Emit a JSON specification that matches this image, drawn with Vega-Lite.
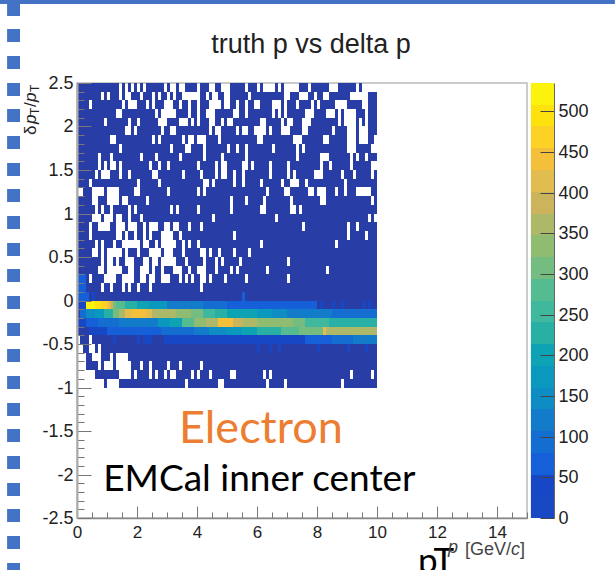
{"$schema":"https://vega.github.io/schema/vega-lite/v6.json","autosize":"none","width":450,"height":435,"padding":{"left":77,"top":83,"right":88,"bottom":52},"background":"white","config":{"view":{"stroke":"#bbbbbb","strokeWidth":1.5}},"datasets":{"cells":[
{"x":0,"e":1.4,"y":2.4,"t":2.5,"v":1},{"x":1.5,"e":1.6,"y":2.4,"t":2.5,"v":1},{"x":1.7,"e":1.8,"y":2.4,"t":2.5,"v":1},{"x":1.9,"e":2,"y":2.4,"t":2.5,"v":1},{"x":2.1,"e":2.2,"y":2.4,"t":2.5,"v":1},{"x":2.3,"e":2.9,"y":2.4,"t":2.5,"v":1},{"x":3,"e":3.1,"y":2.4,"t":2.5,"v":1},{"x":3.3,"e":3.4,"y":2.4,"t":2.5,"v":1},{"x":3.6,"e":4,"y":2.4,"t":2.5,"v":1},{"x":4.1,"e":4.4,"y":2.4,"t":2.5,"v":1},{"x":4.6,"e":4.8,"y":2.4,"t":2.5,"v":1},{"x":5.1,"e":5.6,"y":2.4,"t":2.5,"v":1},{"x":5.7,"e":6,"y":2.4,"t":2.5,"v":1},{"x":6.1,"e":6.2,"y":2.4,"t":2.5,"v":1},{"x":6.6,"e":6.7,"y":2.4,"t":2.5,"v":1},{"x":6.8,"e":6.9,"y":2.4,"t":2.5,"v":1},{"x":7.4,"e":7.7,"y":2.4,"t":2.5,"v":1},{"x":7.8,"e":8.4,"y":2.4,"t":2.5,"v":1},{"x":8.7,"e":9.3,"y":2.4,"t":2.5,"v":1},{"x":9.4,"e":9.5,"y":2.4,"t":2.5,"v":1},
{"x":0,"e":0.8,"y":2.3,"t":2.4,"v":1},{"x":0.9,"e":1,"y":2.3,"t":2.4,"v":1},{"x":1.1,"e":1.4,"y":2.3,"t":2.4,"v":1},{"x":1.5,"e":1.6,"y":2.3,"t":2.4,"v":1},{"x":1.8,"e":2.1,"y":2.3,"t":2.4,"v":1},{"x":2.2,"e":2.5,"y":2.3,"t":2.4,"v":1},{"x":2.6,"e":2.7,"y":2.3,"t":2.4,"v":1},{"x":2.8,"e":3,"y":2.3,"t":2.4,"v":1},{"x":3.1,"e":3.2,"y":2.3,"t":2.4,"v":1},{"x":3.3,"e":3.5,"y":2.3,"t":2.4,"v":1},{"x":4.1,"e":4.3,"y":2.3,"t":2.4,"v":1},{"x":4.4,"e":4.5,"y":2.3,"t":2.4,"v":1},{"x":4.7,"e":4.9,"y":2.3,"t":2.4,"v":1},{"x":5.1,"e":5.7,"y":2.3,"t":2.4,"v":1},{"x":5.8,"e":6.9,"y":2.3,"t":2.4,"v":1},{"x":7.1,"e":7.4,"y":2.3,"t":2.4,"v":1},{"x":7.7,"e":7.9,"y":2.3,"t":2.4,"v":1},{"x":8,"e":8.2,"y":2.3,"t":2.4,"v":1},{"x":8.4,"e":9.1,"y":2.3,"t":2.4,"v":1},{"x":9.7,"e":10,"y":2.3,"t":2.4,"v":1},
{"x":0,"e":0.4,"y":2.2,"t":2.3,"v":1},{"x":0.5,"e":1.5,"y":2.2,"t":2.3,"v":1},{"x":1.6,"e":1.7,"y":2.2,"t":2.3,"v":1},{"x":2,"e":2.3,"y":2.2,"t":2.3,"v":1},{"x":2.4,"e":2.5,"y":2.2,"t":2.3,"v":1},{"x":2.6,"e":2.9,"y":2.2,"t":2.3,"v":1},{"x":3.2,"e":3.4,"y":2.2,"t":2.3,"v":1},{"x":3.5,"e":3.7,"y":2.2,"t":2.3,"v":1},{"x":3.8,"e":4,"y":2.2,"t":2.3,"v":1},{"x":4.1,"e":4.4,"y":2.2,"t":2.3,"v":1},{"x":4.8,"e":4.9,"y":2.2,"t":2.3,"v":1},{"x":5.1,"e":5.3,"y":2.2,"t":2.3,"v":1},{"x":5.4,"e":5.6,"y":2.2,"t":2.3,"v":1},{"x":5.7,"e":5.9,"y":2.2,"t":2.3,"v":1},{"x":6.1,"e":6.5,"y":2.2,"t":2.3,"v":1},{"x":6.8,"e":6.9,"y":2.2,"t":2.3,"v":1},{"x":7,"e":7.3,"y":2.2,"t":2.3,"v":1},{"x":7.4,"e":7.8,"y":2.2,"t":2.3,"v":1},{"x":7.9,"e":8,"y":2.2,"t":2.3,"v":1},{"x":8.1,"e":8.6,"y":2.2,"t":2.3,"v":1},{"x":9,"e":9.5,"y":2.2,"t":2.3,"v":1},{"x":9.7,"e":10,"y":2.2,"t":2.3,"v":1},
{"x":0,"e":1.3,"y":2.1,"t":2.2,"v":1},{"x":1.5,"e":2.6,"y":2.1,"t":2.2,"v":1},{"x":2.7,"e":2.8,"y":2.1,"t":2.2,"v":1},{"x":3.3,"e":3.7,"y":2.1,"t":2.2,"v":1},{"x":3.8,"e":4,"y":2.1,"t":2.2,"v":1},{"x":4.1,"e":4.3,"y":2.1,"t":2.2,"v":1},{"x":4.6,"e":5.2,"y":2.1,"t":2.2,"v":1},{"x":5.4,"e":5.6,"y":2.1,"t":2.2,"v":1},{"x":5.7,"e":6.5,"y":2.1,"t":2.2,"v":1},{"x":6.6,"e":6.7,"y":2.1,"t":2.2,"v":1},{"x":6.8,"e":6.9,"y":2.1,"t":2.2,"v":1},{"x":7,"e":7.6,"y":2.1,"t":2.2,"v":1},{"x":7.9,"e":8.3,"y":2.1,"t":2.2,"v":1},{"x":8.6,"e":8.7,"y":2.1,"t":2.2,"v":1},{"x":8.8,"e":8.9,"y":2.1,"t":2.2,"v":1},{"x":9.3,"e":9.6,"y":2.1,"t":2.2,"v":1},{"x":9.7,"e":10,"y":2.1,"t":2.2,"v":1},
{"x":0,"e":0.9,"y":2,"t":2.1,"v":1},{"x":1,"e":1.7,"y":2,"t":2.1,"v":1},{"x":1.8,"e":2,"y":2,"t":2.1,"v":1},{"x":2.1,"e":2.7,"y":2,"t":2.1,"v":1},{"x":3,"e":3.4,"y":2,"t":2.1,"v":1},{"x":3.7,"e":3.8,"y":2,"t":2.1,"v":1},{"x":3.9,"e":4,"y":2,"t":2.1,"v":1},{"x":4.1,"e":4.4,"y":2,"t":2.1,"v":1},{"x":4.6,"e":4.8,"y":2,"t":2.1,"v":1},{"x":4.9,"e":5,"y":2,"t":2.1,"v":1},{"x":5.2,"e":6.1,"y":2,"t":2.1,"v":1},{"x":6.3,"e":6.8,"y":2,"t":2.1,"v":1},{"x":6.9,"e":7,"y":2,"t":2.1,"v":1},{"x":7.2,"e":7.5,"y":2,"t":2.1,"v":1},{"x":7.8,"e":8.7,"y":2,"t":2.1,"v":1},{"x":8.8,"e":8.9,"y":2,"t":2.1,"v":1},{"x":9.3,"e":9.4,"y":2,"t":2.1,"v":1},{"x":9.5,"e":9.6,"y":2,"t":2.1,"v":1},{"x":9.7,"e":10,"y":2,"t":2.1,"v":1},
{"x":0,"e":1.6,"y":1.9,"t":2,"v":1},{"x":1.8,"e":1.9,"y":1.9,"t":2,"v":1},{"x":2,"e":2.8,"y":1.9,"t":2,"v":1},{"x":2.9,"e":3.1,"y":1.9,"t":2,"v":1},{"x":3.3,"e":4.4,"y":1.9,"t":2,"v":1},{"x":4.5,"e":4.6,"y":1.9,"t":2,"v":1},{"x":4.8,"e":5.3,"y":1.9,"t":2,"v":1},{"x":5.4,"e":5.5,"y":1.9,"t":2,"v":1},{"x":5.7,"e":5.9,"y":1.9,"t":2,"v":1},{"x":6.3,"e":6.4,"y":1.9,"t":2,"v":1},{"x":6.5,"e":6.8,"y":1.9,"t":2,"v":1},{"x":7.1,"e":7.5,"y":1.9,"t":2,"v":1},{"x":7.7,"e":8.5,"y":1.9,"t":2,"v":1},{"x":8.6,"e":9,"y":1.9,"t":2,"v":1},{"x":9.3,"e":9.4,"y":1.9,"t":2,"v":1},{"x":9.7,"e":10,"y":1.9,"t":2,"v":1},
{"x":0,"e":1.1,"y":1.8,"t":1.9,"v":1},{"x":1.3,"e":2.5,"y":1.8,"t":1.9,"v":1},{"x":2.6,"e":2.7,"y":1.8,"t":1.9,"v":1},{"x":2.8,"e":3.5,"y":1.8,"t":1.9,"v":1},{"x":3.6,"e":3.7,"y":1.8,"t":1.9,"v":1},{"x":3.9,"e":4,"y":1.8,"t":1.9,"v":1},{"x":4.3,"e":4.7,"y":1.8,"t":1.9,"v":1},{"x":4.8,"e":6,"y":1.8,"t":1.9,"v":1},{"x":6.2,"e":7.2,"y":1.8,"t":1.9,"v":1},{"x":7.5,"e":8.2,"y":1.8,"t":1.9,"v":1},{"x":8.4,"e":9,"y":1.8,"t":1.9,"v":1},{"x":9.3,"e":9.4,"y":1.8,"t":1.9,"v":1},{"x":9.7,"e":9.9,"y":1.8,"t":1.9,"v":1},
{"x":0,"e":1.4,"y":1.7,"t":1.8,"v":1},{"x":1.5,"e":3.1,"y":1.7,"t":1.8,"v":1},{"x":3.2,"e":3.6,"y":1.7,"t":1.8,"v":1},{"x":3.8,"e":4.2,"y":1.7,"t":1.8,"v":1},{"x":4.3,"e":5,"y":1.7,"t":1.8,"v":1},{"x":5.1,"e":5.3,"y":1.7,"t":1.8,"v":1},{"x":5.4,"e":5.6,"y":1.7,"t":1.8,"v":1},{"x":5.7,"e":6.5,"y":1.7,"t":1.8,"v":1},{"x":6.6,"e":7.3,"y":1.7,"t":1.8,"v":1},{"x":7.4,"e":7.5,"y":1.7,"t":1.8,"v":1},{"x":7.6,"e":9,"y":1.7,"t":1.8,"v":1},{"x":9.3,"e":9.8,"y":1.7,"t":1.8,"v":1},
{"x":0,"e":0.7,"y":1.6,"t":1.7,"v":1},{"x":0.8,"e":1.1,"y":1.6,"t":1.7,"v":1},{"x":1.2,"e":2.1,"y":1.6,"t":1.7,"v":1},{"x":2.2,"e":2.6,"y":1.6,"t":1.7,"v":1},{"x":2.7,"e":3.4,"y":1.6,"t":1.7,"v":1},{"x":3.5,"e":4.2,"y":1.6,"t":1.7,"v":1},{"x":4.3,"e":4.8,"y":1.6,"t":1.7,"v":1},{"x":4.9,"e":5.6,"y":1.6,"t":1.7,"v":1},{"x":5.7,"e":7.3,"y":1.6,"t":1.7,"v":1},{"x":7.4,"e":8.1,"y":1.6,"t":1.7,"v":1},{"x":8.4,"e":9.1,"y":1.6,"t":1.7,"v":1},{"x":9.2,"e":9.3,"y":1.6,"t":1.7,"v":1},{"x":9.4,"e":9.6,"y":1.6,"t":1.7,"v":1},{"x":9.7,"e":10,"y":1.6,"t":1.7,"v":1},
{"x":0,"e":0.7,"y":1.5,"t":1.6,"v":1},{"x":0.8,"e":0.9,"y":1.5,"t":1.6,"v":1},{"x":1,"e":1.1,"y":1.5,"t":1.6,"v":1},{"x":1.3,"e":1.4,"y":1.5,"t":1.6,"v":1},{"x":1.5,"e":2.4,"y":1.5,"t":1.6,"v":1},{"x":2.5,"e":2.7,"y":1.5,"t":1.6,"v":1},{"x":2.8,"e":3,"y":1.5,"t":1.6,"v":1},{"x":3.1,"e":4,"y":1.5,"t":1.6,"v":1},{"x":4.1,"e":4.6,"y":1.5,"t":1.6,"v":1},{"x":4.7,"e":4.8,"y":1.5,"t":1.6,"v":1},{"x":5,"e":5.5,"y":1.5,"t":1.6,"v":1},{"x":5.7,"e":5.8,"y":1.5,"t":1.6,"v":1},{"x":5.9,"e":6.4,"y":1.5,"t":1.6,"v":1},{"x":6.5,"e":7,"y":1.5,"t":1.6,"v":1},{"x":7.1,"e":8.1,"y":1.5,"t":1.6,"v":1},{"x":8.2,"e":8.4,"y":1.5,"t":1.6,"v":1},{"x":8.5,"e":9.1,"y":1.5,"t":1.6,"v":1},{"x":9.2,"e":9.8,"y":1.5,"t":1.6,"v":1},
{"x":0,"e":0.6,"y":1.4,"t":1.5,"v":1},{"x":0.7,"e":0.8,"y":1.4,"t":1.5,"v":1},{"x":1.1,"e":1.4,"y":1.4,"t":1.5,"v":1},{"x":1.5,"e":1.7,"y":1.4,"t":1.5,"v":1},{"x":1.8,"e":2.5,"y":1.4,"t":1.5,"v":1},{"x":2.7,"e":3.5,"y":1.4,"t":1.5,"v":1},{"x":3.6,"e":4.1,"y":1.4,"t":1.5,"v":1},{"x":4.2,"e":4.6,"y":1.4,"t":1.5,"v":1},{"x":4.7,"e":4.8,"y":1.4,"t":1.5,"v":1},{"x":5,"e":5.2,"y":1.4,"t":1.5,"v":1},{"x":5.3,"e":5.5,"y":1.4,"t":1.5,"v":1},{"x":5.6,"e":6.4,"y":1.4,"t":1.5,"v":1},{"x":6.5,"e":7,"y":1.4,"t":1.5,"v":1},{"x":7.1,"e":7.2,"y":1.4,"t":1.5,"v":1},{"x":7.3,"e":7.9,"y":1.4,"t":1.5,"v":1},{"x":8.2,"e":8.8,"y":1.4,"t":1.5,"v":1},{"x":8.9,"e":9.2,"y":1.4,"t":1.5,"v":1},{"x":9.3,"e":9.8,"y":1.4,"t":1.5,"v":1},{"x":9.9,"e":10,"y":1.4,"t":1.5,"v":1},
{"x":0,"e":0.4,"y":1.3,"t":1.4,"v":1},{"x":0.5,"e":2,"y":1.3,"t":1.4,"v":1},{"x":2.1,"e":2.7,"y":1.3,"t":1.4,"v":1},{"x":2.8,"e":4.2,"y":1.3,"t":1.4,"v":1},{"x":4.4,"e":4.5,"y":1.3,"t":1.4,"v":1},{"x":4.6,"e":5.2,"y":1.3,"t":1.4,"v":1},{"x":5.3,"e":5.5,"y":1.3,"t":1.4,"v":1},{"x":5.6,"e":6.1,"y":1.3,"t":1.4,"v":1},{"x":6.2,"e":6.8,"y":1.3,"t":1.4,"v":1},{"x":6.9,"e":7.1,"y":1.3,"t":1.4,"v":1},{"x":7.4,"e":7.6,"y":1.3,"t":1.4,"v":1},{"x":7.7,"e":8.9,"y":1.3,"t":1.4,"v":1},{"x":9,"e":10,"y":1.3,"t":1.4,"v":1},
{"x":0.2,"e":0.5,"y":1.2,"t":1.3,"v":1},{"x":0.9,"e":1,"y":1.2,"t":1.3,"v":1},{"x":1.4,"e":1.9,"y":1.2,"t":1.3,"v":1},{"x":2.1,"e":3,"y":1.2,"t":1.3,"v":1},{"x":3.1,"e":4,"y":1.2,"t":1.3,"v":1},{"x":4.1,"e":4.2,"y":1.2,"t":1.3,"v":1},{"x":4.3,"e":6.3,"y":1.2,"t":1.3,"v":1},{"x":6.4,"e":6.9,"y":1.2,"t":1.3,"v":1},{"x":7.1,"e":7.7,"y":1.2,"t":1.3,"v":1},{"x":7.9,"e":8,"y":1.2,"t":1.3,"v":1},{"x":8.3,"e":8.6,"y":1.2,"t":1.3,"v":1},{"x":8.7,"e":8.9,"y":1.2,"t":1.3,"v":1},{"x":9,"e":9.3,"y":1.2,"t":1.3,"v":1},{"x":9.8,"e":10,"y":1.2,"t":1.3,"v":1},
{"x":0,"e":0.5,"y":1.1,"t":1.2,"v":1},{"x":0.7,"e":1,"y":1.1,"t":1.2,"v":1},{"x":1.4,"e":1.5,"y":1.1,"t":1.2,"v":1},{"x":1.7,"e":2.3,"y":1.1,"t":1.2,"v":1},{"x":2.4,"e":5.1,"y":1.1,"t":1.2,"v":1},{"x":5.2,"e":5.6,"y":1.1,"t":1.2,"v":1},{"x":5.7,"e":6.2,"y":1.1,"t":1.2,"v":1},{"x":6.3,"e":7.1,"y":1.1,"t":1.2,"v":1},{"x":7.2,"e":8.1,"y":1.1,"t":1.2,"v":1},{"x":8.3,"e":9.8,"y":1.1,"t":1.2,"v":1},{"x":9.9,"e":10,"y":1.1,"t":1.2,"v":1},
{"x":0,"e":0.6,"y":1,"t":1.1,"v":1},{"x":0.7,"e":0.8,"y":1,"t":1.1,"v":1},{"x":0.9,"e":1.1,"y":1,"t":1.1,"v":1},{"x":1.2,"e":1.7,"y":1,"t":1.1,"v":1},{"x":1.8,"e":1.9,"y":1,"t":1.1,"v":1},{"x":2,"e":3.1,"y":1,"t":1.1,"v":1},{"x":3.2,"e":3.3,"y":1,"t":1.1,"v":1},{"x":3.4,"e":4,"y":1,"t":1.1,"v":1},{"x":4.1,"e":5.1,"y":1,"t":1.1,"v":1},{"x":5.2,"e":6.1,"y":1,"t":1.1,"v":1},{"x":6.3,"e":7.1,"y":1,"t":1.1,"v":1},{"x":7.3,"e":7.4,"y":1,"t":1.1,"v":1},{"x":7.5,"e":10,"y":1,"t":1.1,"v":1},
{"x":0,"e":0.5,"y":0.9,"t":1,"v":1},{"x":0.8,"e":0.9,"y":0.9,"t":1,"v":1},{"x":1.2,"e":1.3,"y":0.9,"t":1,"v":1},{"x":1.5,"e":1.7,"y":0.9,"t":1,"v":1},{"x":1.8,"e":2.1,"y":0.9,"t":1,"v":1},{"x":2.2,"e":4.5,"y":0.9,"t":1,"v":1},{"x":4.6,"e":6.6,"y":0.9,"t":1,"v":1},{"x":6.7,"e":9.7,"y":0.9,"t":1,"v":1},{"x":9.8,"e":9.9,"y":0.9,"t":1,"v":1},
{"x":0,"e":0.4,"y":0.8,"t":0.9,"v":1},{"x":0.5,"e":0.7,"y":0.8,"t":0.9,"v":1},{"x":1.1,"e":1.3,"y":0.8,"t":0.9,"v":1},{"x":1.6,"e":1.7,"y":0.8,"t":0.9,"v":1},{"x":2,"e":2.2,"y":0.8,"t":0.9,"v":1},{"x":2.3,"e":2.4,"y":0.8,"t":0.9,"v":1},{"x":2.7,"e":2.9,"y":0.8,"t":0.9,"v":1},{"x":3.1,"e":3.2,"y":0.8,"t":0.9,"v":1},{"x":3.4,"e":3.7,"y":0.8,"t":0.9,"v":1},{"x":3.8,"e":4.1,"y":0.8,"t":0.9,"v":1},{"x":4.2,"e":7.5,"y":0.8,"t":0.9,"v":1},{"x":7.6,"e":9,"y":0.8,"t":0.9,"v":1},{"x":9.1,"e":9.3,"y":0.8,"t":0.9,"v":1},{"x":9.4,"e":10,"y":0.8,"t":0.9,"v":1},
{"x":0,"e":0.4,"y":0.7,"t":0.8,"v":1},{"x":0.5,"e":1.3,"y":0.7,"t":0.8,"v":1},{"x":1.5,"e":1.6,"y":0.7,"t":0.8,"v":1},{"x":1.7,"e":1.9,"y":0.7,"t":0.8,"v":1},{"x":2,"e":2.2,"y":0.7,"t":0.8,"v":1},{"x":2.3,"e":2.4,"y":0.7,"t":0.8,"v":1},{"x":2.5,"e":2.8,"y":0.7,"t":0.8,"v":1},{"x":3.2,"e":3.4,"y":0.7,"t":0.8,"v":1},{"x":3.5,"e":5.2,"y":0.7,"t":0.8,"v":1},{"x":5.3,"e":9,"y":0.7,"t":0.8,"v":1},{"x":9.1,"e":9.6,"y":0.7,"t":0.8,"v":1},{"x":9.7,"e":10,"y":0.7,"t":0.8,"v":1},
{"x":0,"e":0.6,"y":0.6,"t":0.7,"v":1},{"x":0.7,"e":0.8,"y":0.6,"t":0.7,"v":1},{"x":0.9,"e":1.2,"y":0.6,"t":0.7,"v":1},{"x":1.3,"e":1.5,"y":0.6,"t":0.7,"v":1},{"x":2.1,"e":2.2,"y":0.6,"t":0.7,"v":1},{"x":2.4,"e":2.6,"y":0.6,"t":0.7,"v":1},{"x":2.7,"e":2.8,"y":0.6,"t":0.7,"v":1},{"x":3.3,"e":3.5,"y":0.6,"t":0.7,"v":1},{"x":3.6,"e":3.7,"y":0.6,"t":0.7,"v":1},{"x":3.8,"e":4,"y":0.6,"t":0.7,"v":1},{"x":4.1,"e":6.1,"y":0.6,"t":0.7,"v":1},{"x":6.2,"e":8.6,"y":0.6,"t":0.7,"v":1},{"x":8.7,"e":10,"y":0.6,"t":0.7,"v":1},
{"x":0,"e":0.5,"y":0.5,"t":0.6,"v":1},{"x":0.7,"e":0.8,"y":0.5,"t":0.6,"v":1},{"x":0.9,"e":1,"y":0.5,"t":0.6,"v":1},{"x":1.5,"e":1.6,"y":0.5,"t":0.6,"v":1},{"x":1.7,"e":2,"y":0.5,"t":0.6,"v":1},{"x":2.1,"e":2.4,"y":0.5,"t":0.6,"v":1},{"x":2.8,"e":2.9,"y":0.5,"t":0.6,"v":1},{"x":3.2,"e":3.5,"y":0.5,"t":0.6,"v":1},{"x":3.6,"e":4.1,"y":0.5,"t":0.6,"v":1},{"x":4.3,"e":4.4,"y":0.5,"t":0.6,"v":1},{"x":4.5,"e":4.7,"y":0.5,"t":0.6,"v":1},{"x":4.8,"e":5.2,"y":0.5,"t":0.6,"v":1},{"x":5.3,"e":5.7,"y":0.5,"t":0.6,"v":1},{"x":5.8,"e":10,"y":0.5,"t":0.6,"v":1},
{"x":0,"e":0.8,"y":0.4,"t":0.5,"v":1},{"x":0.9,"e":1,"y":0.4,"t":0.5,"v":1},{"x":1.2,"e":1.3,"y":0.4,"t":0.5,"v":1},{"x":1.4,"e":1.6,"y":0.4,"t":0.5,"v":1},{"x":1.9,"e":2.2,"y":0.4,"t":0.5,"v":1},{"x":2.4,"e":2.5,"y":0.4,"t":0.5,"v":1},{"x":2.7,"e":2.8,"y":0.4,"t":0.5,"v":1},{"x":3.3,"e":3.6,"y":0.4,"t":0.5,"v":1},{"x":3.7,"e":4.2,"y":0.4,"t":0.5,"v":1},{"x":4.3,"e":4.6,"y":0.4,"t":0.5,"v":1},{"x":4.7,"e":4.8,"y":0.4,"t":0.5,"v":1},{"x":4.9,"e":5.4,"y":0.4,"t":0.5,"v":1},{"x":5.5,"e":7,"y":0.4,"t":0.5,"v":1},{"x":7.1,"e":10,"y":0.4,"t":0.5,"v":1},
{"x":0,"e":0.7,"y":0.3,"t":0.4,"v":1},{"x":0.9,"e":1,"y":0.3,"t":0.4,"v":1},{"x":1.5,"e":1.7,"y":0.3,"t":0.4,"v":1},{"x":1.9,"e":2.1,"y":0.3,"t":0.4,"v":1},{"x":2.4,"e":2.5,"y":0.3,"t":0.4,"v":1},{"x":2.6,"e":2.8,"y":0.3,"t":0.4,"v":1},{"x":2.9,"e":3.2,"y":0.3,"t":0.4,"v":1},{"x":3.5,"e":3.7,"y":0.3,"t":0.4,"v":1},{"x":3.8,"e":4,"y":0.3,"t":0.4,"v":1},{"x":4.3,"e":4.6,"y":0.3,"t":0.4,"v":1},{"x":4.7,"e":5.1,"y":0.3,"t":0.4,"v":1},{"x":5.2,"e":5.3,"y":0.3,"t":0.4,"v":1},{"x":5.4,"e":6.3,"y":0.3,"t":0.4,"v":1},{"x":6.4,"e":8.3,"y":0.3,"t":0.4,"v":1},{"x":8.4,"e":10,"y":0.3,"t":0.4,"v":1},
{"x":0,"e":0.3,"y":0.2,"t":0.3,"v":80},{"x":0.3,"e":0.4,"y":0.2,"t":0.3,"v":1},{"x":0.5,"e":0.9,"y":0.2,"t":0.3,"v":1},{"x":1.3,"e":1.5,"y":0.2,"t":0.3,"v":1},{"x":1.9,"e":2.1,"y":0.2,"t":0.3,"v":1},{"x":2.3,"e":2.4,"y":0.2,"t":0.3,"v":1},{"x":2.6,"e":2.8,"y":0.2,"t":0.3,"v":1},{"x":3.1,"e":3.4,"y":0.2,"t":0.3,"v":1},{"x":3.5,"e":3.6,"y":0.2,"t":0.3,"v":1},{"x":3.7,"e":3.8,"y":0.2,"t":0.3,"v":1},{"x":3.9,"e":4.1,"y":0.2,"t":0.3,"v":1},{"x":4.3,"e":4.4,"y":0.2,"t":0.3,"v":1},{"x":4.5,"e":4.9,"y":0.2,"t":0.3,"v":1},{"x":5,"e":5.6,"y":0.2,"t":0.3,"v":1},{"x":5.7,"e":7,"y":0.2,"t":0.3,"v":1},{"x":7.1,"e":10,"y":0.2,"t":0.3,"v":1},
{"x":0,"e":0.3,"y":0.1,"t":0.2,"v":80},{"x":0.3,"e":0.8,"y":0.1,"t":0.2,"v":1},{"x":0.9,"e":1.1,"y":0.1,"t":0.2,"v":1},{"x":1.2,"e":1.5,"y":0.1,"t":0.2,"v":1},{"x":1.6,"e":1.7,"y":0.1,"t":0.2,"v":1},{"x":1.8,"e":2,"y":0.1,"t":0.2,"v":1},{"x":2.1,"e":2.4,"y":0.1,"t":0.2,"v":1},{"x":2.5,"e":4.1,"y":0.1,"t":0.2,"v":1},{"x":4.2,"e":10,"y":0.1,"t":0.2,"v":1},
{"x":0,"e":0.4,"y":0,"t":0.1,"v":60},{"x":0.4,"e":0.5,"y":0,"t":0.1,"v":1},{"x":0.5,"e":0.6,"y":0,"t":0.1,"v":40},{"x":0.6,"e":5.5,"y":0,"t":0.1,"v":1},{"x":5.5,"e":5.6,"y":0,"t":0.1,"v":60},{"x":5.6,"e":10,"y":0,"t":0.1,"v":1},
{"x":0,"e":0.3,"y":-0.1,"t":0,"v":30},{"x":0.3,"e":0.6,"y":-0.1,"t":0,"v":525},{"x":0.6,"e":0.8,"y":-0.1,"t":0,"v":490},{"x":0.8,"e":1,"y":-0.1,"t":0,"v":470},{"x":1,"e":1.1,"y":-0.1,"t":0,"v":440},{"x":1.1,"e":1.2,"y":-0.1,"t":0,"v":380},{"x":1.2,"e":1.3,"y":-0.1,"t":0,"v":300},{"x":1.3,"e":1.6,"y":-0.1,"t":0,"v":270},{"x":1.6,"e":2,"y":-0.1,"t":0,"v":235},{"x":2,"e":2.4,"y":-0.1,"t":0,"v":200},{"x":2.4,"e":3,"y":-0.1,"t":0,"v":170},{"x":3,"e":3.6,"y":-0.1,"t":0,"v":130},{"x":3.6,"e":4.2,"y":-0.1,"t":0,"v":110},{"x":4.2,"e":5,"y":-0.1,"t":0,"v":85},{"x":5,"e":6.2,"y":-0.1,"t":0,"v":70},{"x":6.2,"e":8,"y":-0.1,"t":0,"v":60},{"x":8,"e":8.1,"y":-0.1,"t":0,"v":1},{"x":8.1,"e":8.2,"y":-0.1,"t":0,"v":30},{"x":8.2,"e":8.5,"y":-0.1,"t":0,"v":1},{"x":8.5,"e":8.6,"y":-0.1,"t":0,"v":30},{"x":8.6,"e":8.8,"y":-0.1,"t":0,"v":1},{"x":8.8,"e":8.9,"y":-0.1,"t":0,"v":30},{"x":8.9,"e":9.5,"y":-0.1,"t":0,"v":1},{"x":9.5,"e":9.6,"y":-0.1,"t":0,"v":30},{"x":9.6,"e":9.7,"y":-0.1,"t":0,"v":1},{"x":9.7,"e":9.8,"y":-0.1,"t":0,"v":30},{"x":9.8,"e":10,"y":-0.1,"t":0,"v":1},
{"x":0,"e":0.1,"y":-0.2,"t":-0.1,"v":1},{"x":0.1,"e":0.3,"y":-0.2,"t":-0.1,"v":100},{"x":0.3,"e":0.6,"y":-0.2,"t":-0.1,"v":145},{"x":0.6,"e":0.9,"y":-0.2,"t":-0.1,"v":175},{"x":0.9,"e":1.2,"y":-0.2,"t":-0.1,"v":230},{"x":1.2,"e":1.4,"y":-0.2,"t":-0.1,"v":300},{"x":1.4,"e":1.6,"y":-0.2,"t":-0.1,"v":370},{"x":1.6,"e":1.8,"y":-0.2,"t":-0.1,"v":420},{"x":1.8,"e":2.3,"y":-0.2,"t":-0.1,"v":445},{"x":2.3,"e":2.5,"y":-0.2,"t":-0.1,"v":420},{"x":2.5,"e":2.8,"y":-0.2,"t":-0.1,"v":365},{"x":2.8,"e":3.3,"y":-0.2,"t":-0.1,"v":350},{"x":3.3,"e":3.8,"y":-0.2,"t":-0.1,"v":340},{"x":3.8,"e":4.2,"y":-0.2,"t":-0.1,"v":300},{"x":4.2,"e":4.6,"y":-0.2,"t":-0.1,"v":260},{"x":4.6,"e":5,"y":-0.2,"t":-0.1,"v":235},{"x":5,"e":5.6,"y":-0.2,"t":-0.1,"v":195},{"x":5.6,"e":6,"y":-0.2,"t":-0.1,"v":210},{"x":6,"e":6.5,"y":-0.2,"t":-0.1,"v":170},{"x":6.5,"e":7,"y":-0.2,"t":-0.1,"v":150},{"x":7,"e":8.5,"y":-0.2,"t":-0.1,"v":120},{"x":8.5,"e":10,"y":-0.2,"t":-0.1,"v":90},
{"x":0,"e":0.3,"y":-0.3,"t":-0.2,"v":30},{"x":0.3,"e":0.7,"y":-0.3,"t":-0.2,"v":70},{"x":0.7,"e":1.1,"y":-0.3,"t":-0.2,"v":100},{"x":1.1,"e":1.4,"y":-0.3,"t":-0.2,"v":85},{"x":1.4,"e":1.8,"y":-0.3,"t":-0.2,"v":110},{"x":1.8,"e":2.3,"y":-0.3,"t":-0.2,"v":125},{"x":2.3,"e":2.7,"y":-0.3,"t":-0.2,"v":120},{"x":2.7,"e":3.1,"y":-0.3,"t":-0.2,"v":170},{"x":3.1,"e":3.5,"y":-0.3,"t":-0.2,"v":200},{"x":3.5,"e":3.9,"y":-0.3,"t":-0.2,"v":270},{"x":3.9,"e":4.3,"y":-0.3,"t":-0.2,"v":340},{"x":4.3,"e":4.7,"y":-0.3,"t":-0.2,"v":370},{"x":4.7,"e":5.2,"y":-0.3,"t":-0.2,"v":445},{"x":5.2,"e":5.5,"y":-0.3,"t":-0.2,"v":400},{"x":5.5,"e":6,"y":-0.3,"t":-0.2,"v":370},{"x":6,"e":6.5,"y":-0.3,"t":-0.2,"v":345},{"x":6.5,"e":7.2,"y":-0.3,"t":-0.2,"v":330},{"x":7.2,"e":7.6,"y":-0.3,"t":-0.2,"v":295},{"x":7.6,"e":8.4,"y":-0.3,"t":-0.2,"v":260},{"x":8.4,"e":10,"y":-0.3,"t":-0.2,"v":225},
{"x":0,"e":0.4,"y":-0.4,"t":-0.3,"v":1},{"x":0.4,"e":1,"y":-0.4,"t":-0.3,"v":35},{"x":1,"e":2.8,"y":-0.4,"t":-0.3,"v":65},{"x":2.8,"e":3.4,"y":-0.4,"t":-0.3,"v":85},{"x":3.4,"e":3.9,"y":-0.4,"t":-0.3,"v":95},{"x":3.9,"e":4.4,"y":-0.4,"t":-0.3,"v":130},{"x":4.4,"e":5,"y":-0.4,"t":-0.3,"v":155},{"x":5,"e":5.5,"y":-0.4,"t":-0.3,"v":180},{"x":5.5,"e":6,"y":-0.4,"t":-0.3,"v":200},{"x":6,"e":6.8,"y":-0.4,"t":-0.3,"v":235},{"x":6.8,"e":7.4,"y":-0.4,"t":-0.3,"v":275},{"x":7.4,"e":8.2,"y":-0.4,"t":-0.3,"v":300},{"x":8.2,"e":8.3,"y":-0.4,"t":-0.3,"v":410},{"x":8.3,"e":10,"y":-0.4,"t":-0.3,"v":365},
{"x":0.1,"e":0.4,"y":-0.5,"t":-0.4,"v":1},{"x":0.5,"e":1.2,"y":-0.5,"t":-0.4,"v":1},{"x":1.2,"e":1.3,"y":-0.5,"t":-0.4,"v":30},{"x":1.3,"e":2,"y":-0.5,"t":-0.4,"v":1},{"x":2,"e":2.1,"y":-0.5,"t":-0.4,"v":30},{"x":2.1,"e":2.2,"y":-0.5,"t":-0.4,"v":1},{"x":2.2,"e":2.5,"y":-0.5,"t":-0.4,"v":30},{"x":2.5,"e":2.9,"y":-0.5,"t":-0.4,"v":1},{"x":2.9,"e":7.6,"y":-0.5,"t":-0.4,"v":40},{"x":7.6,"e":8.5,"y":-0.5,"t":-0.4,"v":75},{"x":8.5,"e":9.2,"y":-0.5,"t":-0.4,"v":105},{"x":9.2,"e":10,"y":-0.5,"t":-0.4,"v":125},
{"x":0.2,"e":0.4,"y":-0.6,"t":-0.5,"v":1},{"x":0.6,"e":0.7,"y":-0.6,"t":-0.5,"v":1},{"x":0.8,"e":6,"y":-0.6,"t":-0.5,"v":1},{"x":6,"e":6.1,"y":-0.6,"t":-0.5,"v":30},{"x":6.1,"e":6.4,"y":-0.6,"t":-0.5,"v":1},{"x":6.4,"e":6.5,"y":-0.6,"t":-0.5,"v":30},{"x":6.5,"e":6.7,"y":-0.6,"t":-0.5,"v":1},{"x":6.7,"e":6.8,"y":-0.6,"t":-0.5,"v":30},{"x":6.8,"e":8,"y":-0.6,"t":-0.5,"v":1},{"x":8,"e":8.1,"y":-0.6,"t":-0.5,"v":30},{"x":8.1,"e":9,"y":-0.6,"t":-0.5,"v":1},{"x":9,"e":9.1,"y":-0.6,"t":-0.5,"v":30},{"x":9.1,"e":9.6,"y":-0.6,"t":-0.5,"v":1},{"x":9.6,"e":9.7,"y":-0.6,"t":-0.5,"v":30},{"x":9.7,"e":10,"y":-0.6,"t":-0.5,"v":1},
{"x":0.3,"e":0.5,"y":-0.7,"t":-0.6,"v":1},{"x":0.8,"e":1.1,"y":-0.7,"t":-0.6,"v":1},{"x":1.2,"e":1.3,"y":-0.7,"t":-0.6,"v":1},{"x":1.7,"e":10,"y":-0.7,"t":-0.6,"v":1},
{"x":0.3,"e":0.7,"y":-0.8,"t":-0.7,"v":1},{"x":0.8,"e":0.9,"y":-0.8,"t":-0.7,"v":1},{"x":1.2,"e":1.3,"y":-0.8,"t":-0.7,"v":1},{"x":1.8,"e":2.1,"y":-0.8,"t":-0.7,"v":1},{"x":2.2,"e":2.4,"y":-0.8,"t":-0.7,"v":1},{"x":2.5,"e":3,"y":-0.8,"t":-0.7,"v":1},{"x":3.1,"e":3.4,"y":-0.8,"t":-0.7,"v":1},{"x":3.5,"e":4.1,"y":-0.8,"t":-0.7,"v":1},{"x":4.2,"e":10,"y":-0.8,"t":-0.7,"v":1},
{"x":0.6,"e":1.4,"y":-0.9,"t":-0.8,"v":1},{"x":1.8,"e":1.9,"y":-0.9,"t":-0.8,"v":1},{"x":2,"e":2.4,"y":-0.9,"t":-0.8,"v":1},{"x":2.5,"e":2.6,"y":-0.9,"t":-0.8,"v":1},{"x":2.7,"e":2.9,"y":-0.9,"t":-0.8,"v":1},{"x":3,"e":3.1,"y":-0.9,"t":-0.8,"v":1},{"x":3.3,"e":3.8,"y":-0.9,"t":-0.8,"v":1},{"x":3.9,"e":4,"y":-0.9,"t":-0.8,"v":1},{"x":4.1,"e":4.4,"y":-0.9,"t":-0.8,"v":1},{"x":4.5,"e":5.1,"y":-0.9,"t":-0.8,"v":1},{"x":5.3,"e":6.2,"y":-0.9,"t":-0.8,"v":1},{"x":6.3,"e":6.4,"y":-0.9,"t":-0.8,"v":1},{"x":6.5,"e":9.1,"y":-0.9,"t":-0.8,"v":1},{"x":9.2,"e":9.8,"y":-0.9,"t":-0.8,"v":1},{"x":9.9,"e":10,"y":-0.9,"t":-0.8,"v":1},
{"x":0.9,"e":1,"y":-1,"t":-0.9,"v":1},{"x":1.4,"e":3.6,"y":-1,"t":-0.9,"v":1},{"x":3.7,"e":4.7,"y":-1,"t":-0.9,"v":1},{"x":4.9,"e":6.3,"y":-1,"t":-0.9,"v":1},{"x":6.4,"e":6.9,"y":-1,"t":-0.9,"v":1},{"x":7,"e":8.8,"y":-1,"t":-0.9,"v":1},{"x":8.9,"e":10,"y":-1,"t":-0.9,"v":1}
],
"squares":[{"x":-2.33,"e":-1.9,"y":3.274,"t":3.423},{"x":-2.33,"e":-1.9,"y":2.967,"t":3.117},{"x":-2.33,"e":-1.9,"y":2.661,"t":2.81},{"x":-2.33,"e":-1.9,"y":2.354,"t":2.504},{"x":-2.33,"e":-1.9,"y":2.048,"t":2.197},{"x":-2.33,"e":-1.9,"y":1.741,"t":1.891},{"x":-2.33,"e":-1.9,"y":1.435,"t":1.584},{"x":-2.33,"e":-1.9,"y":1.128,"t":1.278},{"x":-2.33,"e":-1.9,"y":0.822,"t":0.971},{"x":-2.33,"e":-1.9,"y":0.515,"t":0.665},{"x":-2.33,"e":-1.9,"y":0.209,"t":0.358},{"x":-2.33,"e":-1.9,"y":-0.098,"t":0.052},{"x":-2.33,"e":-1.9,"y":-0.404,"t":-0.255},{"x":-2.33,"e":-1.9,"y":-0.711,"t":-0.561},{"x":-2.33,"e":-1.9,"y":-1.017,"t":-0.868},{"x":-2.33,"e":-1.9,"y":-1.324,"t":-1.174},{"x":-2.33,"e":-1.9,"y":-1.63,"t":-1.481},{"x":-2.33,"e":-1.9,"y":-1.937,"t":-1.787},{"x":-2.33,"e":-1.9,"y":-2.243,"t":-2.094},{"x":-2.33,"e":-1.9,"y":-2.55,"t":-2.4},{"x":-2.33,"e":-1.9,"y":-2.856,"t":-2.707},{"x":-2.33,"e":-1.9,"y":-3.163,"t":-3.013},{"x":-2.57,"e":17.93,"y":3.41,"t":3.454}],
"bar":[{"x":15.13,"e":15.9,"a":0,"b":26.75,"v":13},{"x":15.13,"e":15.9,"a":26.75,"b":53.5,"v":40},{"x":15.13,"e":15.9,"a":53.5,"b":80.25,"v":67},{"x":15.13,"e":15.9,"a":80.25,"b":107,"v":94},{"x":15.13,"e":15.9,"a":107,"b":133.75,"v":120},{"x":15.13,"e":15.9,"a":133.75,"b":160.5,"v":147},{"x":15.13,"e":15.9,"a":160.5,"b":187.25,"v":174},{"x":15.13,"e":15.9,"a":187.25,"b":214,"v":200},{"x":15.13,"e":15.9,"a":214,"b":240.75,"v":227},{"x":15.13,"e":15.9,"a":240.75,"b":267.5,"v":254},{"x":15.13,"e":15.9,"a":267.5,"b":294.25,"v":281},{"x":15.13,"e":15.9,"a":294.25,"b":321,"v":308},{"x":15.13,"e":15.9,"a":321,"b":347.75,"v":334},{"x":15.13,"e":15.9,"a":347.75,"b":374.5,"v":361},{"x":15.13,"e":15.9,"a":374.5,"b":401.25,"v":388},{"x":15.13,"e":15.9,"a":401.25,"b":428,"v":415},{"x":15.13,"e":15.9,"a":428,"b":454.75,"v":441},{"x":15.13,"e":15.9,"a":454.75,"b":481.5,"v":468},{"x":15.13,"e":15.9,"a":481.5,"b":508.25,"v":495},{"x":15.13,"e":15.9,"a":508.25,"b":535,"v":522}]},
"layer":[{"encoding":{"x":{"field":"x","type":"quantitative","title":null,"scale":{"domain":[0,15],"nice":false},"axis":{"values":[0,0.5,1,1.5,2,2.5,3,3.5,4,4.5,5,5.5,6,6.5,7,7.5,8,8.5,9,9.5,10,10.5,11,11.5,12,12.5,13,13.5,14,14.5,15],"labelExpr":"datum.value % 2 == 0 ? toString(datum.value) : ''","labelFont":"Liberation Sans","labelFontSize":17,"labelColor":"#222222","labelPadding":18,"labelOverlap":false,"labelFlush":false,"tickSize":{"condition":{"test":"datum.value % 2 == 0","value":-12},"value":-6},"tickColor":"#777777","domainColor":"#888888","domainWidth":1.5,"grid":false,"zindex":1}},"y":{"field":"y","type":"quantitative","title":null,"scale":{"domain":[-2.5,2.5],"nice":false,"round":true},"axis":{"values":[-2.5,-2.4,-2.3,-2.2,-2.1,-2,-1.9,-1.8,-1.7,-1.6,-1.5,-1.4,-1.3,-1.2,-1.1,-1,-0.9,-0.8,-0.7,-0.6,-0.5,-0.4,-0.3,-0.2,-0.1,0,0.1,0.2,0.3,0.4,0.5,0.6,0.7,0.8,0.9,1,1.1,1.2,1.3,1.4,1.5,1.6,1.7,1.8,1.9,2,2.1,2.2,2.3,2.4,2.5],"labelExpr":"abs(datum.value*2 - round(datum.value*2)) < 0.01 ? toString(datum.value) : ''","labelFont":"Liberation Sans","labelFontSize":18,"labelColor":"#222222","labelPadding":18,"labelOverlap":false,"labelFlush":false,"tickSize":{"condition":{"test":"abs(datum.value*2 - round(datum.value*2)) < 0.01","value":-14},"value":-7},"tickColor":"#777777","domainColor":"#aaaaaa","domainWidth":2,"grid":false,"zindex":1}}},"layer":[
{"data":{"name":"cells"},"mark":{"type":"rect"},"encoding":{"x2":{"field":"e"},"y2":{"field":"t"},"color":{"field":"v","type":"quantitative","scale":{"type":"threshold","domain":[2,26.75,53.5,80.25,107,133.75,160.5,187.25,214,240.75,267.5,294.25,321,347.75,374.5,401.25,428,454.75,481.5,508.25],"range":["#283EA6","#1848C4","#1747C4","#1560D8","#146DD0","#127CCB","#0E8DC4","#0B98BF","#0DA2B4","#27B0A3","#3FB89D","#55BC92","#74BC80","#8FBC70","#ADB868","#CBB45C","#E1BD50","#F4C03A","#FDD225","#FDE20E","#FBF30C"]},"legend":null}}},
{"data":{"name":"squares"},"mark":{"type":"rect","color":"#4472C4"},"encoding":{"x2":{"field":"e"},"y2":{"field":"t"}}},
{"data":{"values":[{"x":7.8,"y":2.845,"s":"truth p vs delta p"}]},"mark":{"type":"text","font":"Liberation Sans","fontSize":27,"color":"#222222","align":"center","baseline":"alphabetic"},"encoding":{"text":{"field":"s"}}},
{"data":{"values":[{"x":6.13,"y":-1.638,"s":"Electron"}]},"mark":{"type":"text","font":"Lato","fontSize":45,"color":"#ED7D31","align":"center","baseline":"alphabetic"},"encoding":{"text":{"field":"s"}}},
{"data":{"values":[{"x":6.08,"y":-2.186,"s":"EMCal inner center"}]},"mark":{"type":"text","font":"Lato","fontSize":37,"color":"#000000","align":"center","baseline":"alphabetic"},"encoding":{"text":{"field":"s"}}},
{"data":{"values":[{"x":11.37,"y":-3.13,"s":"pT"}]},"mark":{"type":"text","font":"Lato","fontSize":35,"color":"#000000","align":"left","baseline":"alphabetic"},"encoding":{"text":{"field":"s"}}},
{"data":{"values":[{"x":12.93,"y":-2.925,"s":"[GeV/"},{"x":14.77,"y":-2.925,"s":"]"}]},"mark":{"type":"text","font":"Liberation Sans","fontSize":18,"color":"#444444","align":"left","baseline":"alphabetic"},"encoding":{"text":{"field":"s"}}},
{"data":{"values":[{"x":14.47,"y":-2.925,"s":"c"},{"x":12.37,"y":-2.9,"s":"p"}]},"mark":{"type":"text","font":"Liberation Sans","fontSize":18,"fontStyle":"italic","color":"#444444","align":"left","baseline":"alphabetic"},"encoding":{"text":{"field":"s"}}},
{"data":{"values":[{"x":-1.367,"y":1.902,"s":"δ"},{"x":-1.367,"y":2.224,"s":"/"}]},"mark":{"type":"text","font":"Liberation Sans","fontSize":17,"angle":270,"color":"#222222","align":"left","baseline":"alphabetic"},"encoding":{"text":{"field":"s"}}},
{"data":{"values":[{"x":-1.367,"y":2.029,"s":"p"},{"x":-1.367,"y":2.282,"s":"p"}]},"mark":{"type":"text","font":"Liberation Sans","fontSize":17,"fontStyle":"italic","angle":270,"color":"#222222","align":"left","baseline":"alphabetic"},"encoding":{"text":{"field":"s"}}},
{"data":{"values":[{"x":-1.27,"y":2.132,"s":"T"},{"x":-1.27,"y":2.397,"s":"T"}]},"mark":{"type":"text","font":"Liberation Sans","fontSize":12,"angle":270,"color":"#222222","align":"left","baseline":"alphabetic"},"encoding":{"text":{"field":"s"}}}
]},
{"data":{"name":"bar"},"mark":{"type":"rect"},"encoding":{"x":{"field":"x","type":"quantitative","title":null,"scale":{"domain":[0,15],"nice":false},"axis":null},"x2":{"field":"e"},"y":{"field":"a","type":"quantitative","title":null,"scale":{"domain":[0,535],"nice":false,"round":true},"axis":{"orient":"right","offset":27,"values":[0,50,100,150,200,250,300,350,400,450,500],"labelFont":"Liberation Sans","labelFontSize":18,"labelColor":"#222222","labelPadding":18,"labelFlush":false,"labelOverlap":false,"tickSize":-14,"tickColor":"#444444","domainColor":"#666666","grid":false,"zindex":1}},"y2":{"field":"b"},"color":{"field":"v","type":"quantitative","scale":{"type":"threshold","domain":[2,26.75,53.5,80.25,107,133.75,160.5,187.25,214,240.75,267.5,294.25,321,347.75,374.5,401.25,428,454.75,481.5,508.25],"range":["#283EA6","#1848C4","#1747C4","#1560D8","#146DD0","#127CCB","#0E8DC4","#0B98BF","#0DA2B4","#27B0A3","#3FB89D","#55BC92","#74BC80","#8FBC70","#ADB868","#CBB45C","#E1BD50","#F4C03A","#FDD225","#FDE20E","#FBF30C"]},"legend":null}}}
],"resolve":{"scale":{"y":"independent"},"axis":{"y":"independent","x":"independent"}}}
